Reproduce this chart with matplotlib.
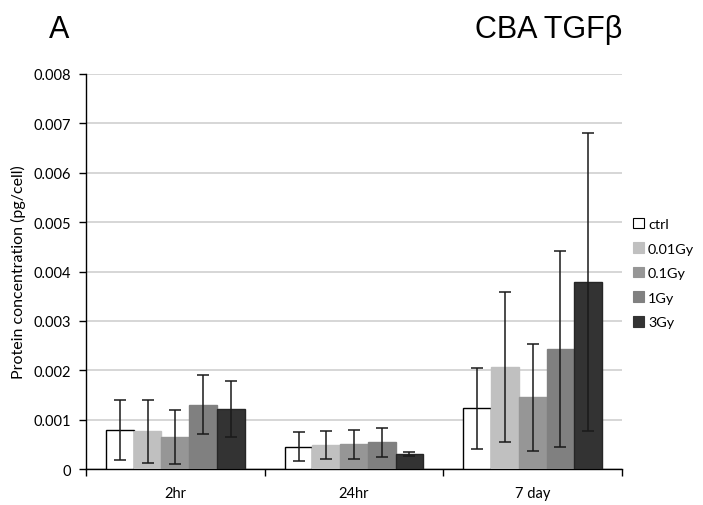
import numpy as np
import matplotlib
matplotlib.use("Agg")
import matplotlib.pyplot as plt
from matplotlib.patches import Patch

# Data: TGF-beta protein concentration (pg/cell), mean and SD
timepoints = ["2hr", "24hr", "7 day"]
doses = ["ctrl", "0.01Gy", "0.1Gy", "1Gy", "3Gy"]

ctrl_mean = [0.00079, 0.00045, 0.00123]
gy001_mean = [0.00076, 0.00049, 0.00206]
gy01_mean = [0.00065, 0.00050, 0.00145]
gy1_mean = [0.00130, 0.00054, 0.00243]
gy3_mean = [0.00121, 0.00030, 0.00378]

ctrl_sd = [0.00061, 0.00029, 0.00082]
gy001_sd = [0.00063, 0.00028, 0.00152]
gy01_sd = [0.00055, 0.00030, 0.00108]
gy1_sd = [0.00060, 0.00030, 0.00198]
gy3_sd = [0.00057, 0.00004, 0.00302]

means = [ctrl_mean, gy001_mean, gy01_mean, gy1_mean, gy3_mean]
sds = [ctrl_sd, gy001_sd, gy01_sd, gy1_sd, gy3_sd]
colors = ["#ffffff", "#c0c0c0", "#969696", "#808080", "#333333"]
edges = ["#000000", "#c0c0c0", "#969696", "#808080", "#262626"]

fig = plt.figure(figsize=(7.03, 5.06), dpi=100)
ax = fig.add_axes([0.1223, 0.0711, 0.7625, 0.7807])

x = np.arange(len(timepoints))
bar_w = 0.155
offsets = (np.arange(len(doses)) - 2) * bar_w

for i, d in enumerate(doses):
    ax.bar(x + offsets[i], means[i], width=bar_w, color=colors[i],
           edgecolor=edges[i], linewidth=1.0, zorder=3, label=d)
    ax.errorbar(x + offsets[i], means[i], yerr=sds[i], fmt="none",
                ecolor="#1a1a1a", elinewidth=1.1, capsize=4, capthick=1.1,
                zorder=4)

ax.set_xlim(-0.5, len(timepoints) - 0.5)
ax.set_ylim(0, 0.008)
ax.set_yticks(np.arange(0, 0.0081, 0.001))
ax.set_yticklabels(["0"] + [f"{v:.3f}" for v in np.arange(0.001, 0.0081, 0.001)])
ax.yaxis.grid(True, color="#d0d0d0", linewidth=1.2, zorder=0)
ax.set_axisbelow(True)

# Category boundary ticks on the x axis, labels at group centres
ax.set_xticks(np.arange(-0.5, len(timepoints), 1.0))
ax.set_xticklabels([])
ax.set_xticks(x, minor=True)
ax.set_xticklabels(timepoints, minor=True)
ax.tick_params(axis="x", which="minor", length=0, pad=12, labelsize=10.5)
ax.tick_params(axis="x", which="major", length=5, direction="out", width=1)
ax.tick_params(axis="y", length=5, direction="out", width=1, labelsize=10.5, pad=6)

for s in ["top", "right"]:
    ax.spines[s].set_visible(False)
for s in ["left", "bottom"]:
    ax.spines[s].set_color("#000000")
    ax.spines[s].set_linewidth(1.0)

for lab in ax.get_yticklabels() + ax.get_xticklabels(minor=True):
    lab.set_fontfamily("Lato")

ax.set_ylabel("Protein concentration (pg/cell)", fontsize=11.5, family="Lato",
              labelpad=5)

handles = [Patch(facecolor=colors[i], edgecolor=("#000000" if i == 0 else colors[i]),
                 linewidth=0.8) for i in range(len(doses))]
leg = fig.legend(handles, doses, loc="upper left", bbox_to_anchor=(0.888, 0.585),
                 frameon=False, handlelength=0.75, handleheight=0.75,
                 handletextpad=0.3, labelspacing=0.85, borderaxespad=0.2,
                 prop={"family": "Lato", "size": 10.4})

fig.text(0.07, 0.925, "A", fontsize=22, family="Liberation Sans")
fig.text(0.885, 0.925, "CBA TGF\u03b2", fontsize=22, family="Liberation Sans",
         ha="right")

fig.savefig("out.png", dpi=100)
